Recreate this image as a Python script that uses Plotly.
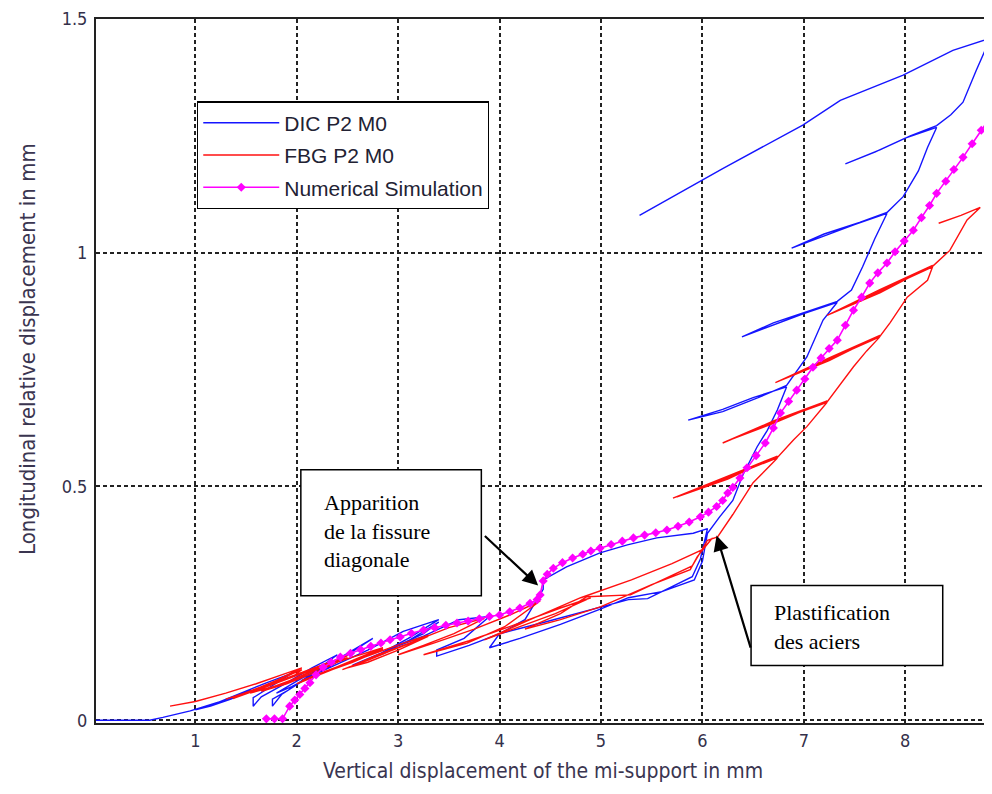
import plotly.graph_objects as go

# ---- data (x: vertical displacement, y: longitudinal displacement, mm)
dic_x = [0.00, 0.55, 0.68, 0.80, 0.95, 1.10, 1.25, 1.40, 1.55,
         1.35, 1.15, 1.00,
         1.20, 1.45, 1.70, 1.95,
         1.75, 1.57, 1.57,
         1.65, 1.90, 2.15, 2.40,
         2.15, 1.90, 1.76, 1.76,
         1.85, 2.10, 2.30, 2.45,
         2.20, 1.95, 1.80,
         2.05, 2.40, 2.75,
         2.50, 2.25, 2.05,
         2.35, 2.70, 3.05, 3.40,
         3.10, 2.80, 2.55,
         2.90, 3.25, 3.40,
         3.10, 2.85, 2.70,
         2.95, 3.25, 3.60, 3.90,
         3.65, 3.38, 3.38,
         3.70, 4.00, 4.25, 4.43, 4.43,
         4.66, 4.99, 5.26, 5.55, 5.91, 6.05,
         6.02, 5.98, 5.90, 5.46, 5.27, 4.90, 4.45, 4.00, 3.90,
         4.20, 4.60, 5.00, 5.27, 5.60, 5.92, 6.00, 6.05,
         6.17, 6.30, 6.40, 6.54, 6.64, 6.74, 6.83,
         6.50, 6.20, 5.86,
         6.20, 6.55, 6.83,
         7.03, 7.19, 7.33,
         7.00, 6.70, 6.39,
         6.70, 7.05, 7.33,
         7.47, 7.58, 7.70, 7.82,
         7.50, 7.20, 6.88,
         7.20, 7.55, 7.82,
         7.98, 8.13, 8.22, 8.31,
         8.00, 7.70, 7.41,
         7.75, 8.05, 8.31,
         8.45, 8.57, 8.70, 8.84,
         8.47, 7.98, 7.36, 6.99, 6.20, 5.38]
dic_y = [0.000, 0.000, 0.006, 0.012, 0.020, 0.030, 0.040, 0.052, 0.065,
         0.045, 0.030, 0.022,
         0.036, 0.058, 0.080, 0.100,
         0.072, 0.048, 0.030,
         0.050, 0.080, 0.112, 0.140,
         0.100, 0.062, 0.045, 0.030,
         0.055, 0.090, 0.118, 0.135,
         0.100, 0.072, 0.058,
         0.090, 0.130, 0.175,
         0.140, 0.105, 0.085,
         0.115, 0.150, 0.190, 0.215,
         0.175, 0.140, 0.118,
         0.150, 0.185, 0.210,
         0.170, 0.142, 0.130,
         0.155, 0.180, 0.215, 0.222,
         0.175, 0.150, 0.137,
         0.160, 0.185, 0.215, 0.280, 0.300,
         0.328, 0.358, 0.375, 0.390, 0.400, 0.410,
         0.380, 0.345, 0.307, 0.260, 0.258, 0.236, 0.210, 0.185, 0.155,
         0.175, 0.205, 0.238, 0.262, 0.275, 0.300, 0.340, 0.400,
         0.435, 0.470, 0.525, 0.585, 0.620, 0.664, 0.713,
         0.690, 0.665, 0.642,
         0.660, 0.690, 0.716,
         0.777, 0.856, 0.894,
         0.870, 0.845, 0.820,
         0.850, 0.875, 0.896,
         0.920, 0.970, 1.030, 1.084,
         1.060, 1.035, 1.010,
         1.040, 1.065, 1.086,
         1.120, 1.175, 1.225, 1.268,
         1.245, 1.215, 1.190,
         1.220, 1.250, 1.272,
         1.295, 1.322, 1.390, 1.459,
         1.433, 1.380, 1.326, 1.273, 1.180, 1.080]

fbg_x = [0.75, 1.00, 1.30, 1.60, 1.85, 2.05,
         1.80, 1.55, 1.37,
         1.65, 1.95, 2.05,
         1.75, 1.45, 1.30,
         1.60, 1.95, 2.25, 2.50,
         2.20, 1.90, 1.54,
         1.85, 2.20, 2.50,
         2.20, 1.90, 1.65,
         1.95, 2.20, 2.55, 2.85,
         2.55, 2.25, 2.00,
         2.35, 2.70, 2.85,
         2.55, 2.20, 2.05,
         2.35, 2.70, 3.05, 3.30,
         3.00, 2.70, 2.45,
         2.80, 3.15, 3.30,
         3.00, 2.70, 2.50,
         2.80, 3.15, 3.50, 3.85,
         3.55, 3.25, 3.00,
         3.35, 3.75, 4.10, 4.40,
         4.05, 3.68, 3.25,
         3.70, 4.20, 4.60, 4.90,
         4.55, 4.20, 3.85,
         4.30, 4.80, 5.30, 5.70, 6.00, 6.10,
         5.95, 5.88, 5.50, 5.00, 4.60, 4.25,
         4.60, 4.86, 5.29, 5.60, 5.90, 6.05,
         6.15, 6.30, 6.50, 6.74,
         6.25, 5.71, 6.25, 6.74, 6.25, 5.75, 6.25, 6.74,
         6.90, 7.03, 7.23,
         6.70, 6.20, 6.70, 7.23, 6.70, 6.24, 6.70, 7.23,
         7.49, 7.62, 7.75,
         7.25, 6.72, 7.25, 7.75, 7.25, 6.76, 7.25, 7.75,
         7.85, 8.02, 8.22, 8.27,
         7.75, 7.23, 7.75, 8.27, 7.75, 7.27, 7.75, 8.27,
         8.44, 8.61, 8.74,
         8.55, 8.33]
fbg_y = [0.030, 0.040, 0.058, 0.078, 0.097, 0.112,
         0.085, 0.062, 0.046,
         0.068, 0.092, 0.108,
         0.080, 0.055, 0.045,
         0.066, 0.094, 0.118, 0.138,
         0.108, 0.080, 0.058,
         0.084, 0.112, 0.134,
         0.104, 0.078, 0.062,
         0.086, 0.110, 0.135, 0.155,
         0.128, 0.100, 0.078,
         0.108, 0.138, 0.152,
         0.124, 0.096, 0.085,
         0.110, 0.138, 0.165, 0.182,
         0.155, 0.128, 0.108,
         0.138, 0.168, 0.180,
         0.150, 0.124, 0.112,
         0.140, 0.168, 0.198, 0.218,
         0.185, 0.160, 0.140,
         0.165, 0.195, 0.225, 0.255,
         0.200, 0.165, 0.140,
         0.170, 0.208, 0.240, 0.262,
         0.228, 0.200, 0.172,
         0.215, 0.262, 0.300, 0.335, 0.365, 0.390,
         0.350, 0.322, 0.290, 0.243, 0.215, 0.195,
         0.228, 0.264, 0.268, 0.300, 0.330, 0.385,
         0.392, 0.440, 0.508, 0.561,
         0.520, 0.475, 0.522, 0.565, 0.516, 0.478, 0.519, 0.562,
         0.600, 0.628, 0.680,
         0.638, 0.593, 0.640, 0.683, 0.635, 0.597, 0.637, 0.681,
         0.756, 0.790, 0.820,
         0.772, 0.722, 0.775, 0.823, 0.769, 0.726, 0.772, 0.821,
         0.850, 0.905, 0.941, 0.970,
         0.918, 0.866, 0.921, 0.973, 0.914, 0.870, 0.917, 0.971,
         1.005, 1.070, 1.097,
         1.080, 1.063]

num_x = [1.70, 1.78, 1.86, 1.93, 1.98, 2.03, 2.08, 2.13, 2.19, 2.26, 2.34, 2.43,
         2.53, 2.63, 2.73, 2.83, 2.92, 3.02, 3.13, 3.25, 3.36, 3.47, 3.58, 3.69,
         3.80, 3.90, 4.00, 4.10, 4.20, 4.30, 4.37, 4.40, 4.43, 4.47, 4.53, 4.62,
         4.72, 4.82, 4.90, 4.99, 5.10, 5.21, 5.32, 5.43, 5.54, 5.65, 5.76, 5.87,
         5.98, 6.06, 6.14, 6.20, 6.25, 6.30, 6.37, 6.44, 6.53, 6.62, 6.70, 6.77,
         6.85, 6.93, 7.01, 7.09, 7.17, 7.25, 7.33, 7.41, 7.49, 7.57, 7.65, 7.73,
         7.82, 7.90, 7.99, 8.08, 8.16, 8.24, 8.31, 8.40, 8.48, 8.57, 8.66, 8.75,
         8.84]
num_y = [0.003, 0.003, 0.003, 0.030, 0.043, 0.055, 0.068, 0.080, 0.097, 0.113, 0.124, 0.135,
         0.143, 0.151, 0.158, 0.165, 0.172, 0.178, 0.186, 0.193, 0.198, 0.203, 0.208, 0.212,
         0.217, 0.222, 0.225, 0.232, 0.240, 0.250, 0.258, 0.268, 0.298, 0.312, 0.325, 0.337,
         0.347, 0.355, 0.362, 0.368, 0.376, 0.383, 0.390, 0.396, 0.401, 0.407, 0.415, 0.424,
         0.435, 0.445, 0.457, 0.470, 0.486, 0.498, 0.518, 0.540, 0.566, 0.593, 0.625, 0.657,
         0.682, 0.706, 0.730, 0.755, 0.775, 0.795, 0.813, 0.845, 0.877, 0.905, 0.935, 0.957,
         0.978, 1.002, 1.025, 1.048, 1.075, 1.101, 1.127, 1.153, 1.178, 1.204, 1.233, 1.262,
         1.290]

x_ticks = [1, 2, 3, 4, 5, 6, 7, 8]
y_ticks = [0, 0.5, 1, 1.5]
y_tick_text = ["0", "0.5", "1", "1.5"]

narrow = "Liberation Sans Narrow, DejaVu Sans Condensed, Arial Narrow, sans-serif"
serif = "Liberation Serif, Times New Roman, serif"

fig = go.Figure()

fig.add_trace(go.Scatter(x=dic_x, y=dic_y, mode="lines", name="DIC P2 M0",
                         legendgroup="a", line=dict(color="#1515ff", width=1.4)))
fig.add_trace(go.Scatter(x=fbg_x, y=fbg_y, mode="lines", name="FBG P2 M0",
                         legendgroup="b", line=dict(color="#ff1010", width=1.4)))
fig.add_trace(go.Scatter(x=num_x, y=num_y, mode="lines+markers", name="Numerical Simulation",
                         legendgroup="c", line=dict(color="#ff00ff", width=1.6),
                         marker=dict(symbol="diamond", size=7, color="#ff00ff")))

# annotation boxes
fig.add_shape(type="rect", xref="x", yref="y", x0=2.04, x1=3.82, y0=0.266, y1=0.536,
              line=dict(color="black", width=1.5), fillcolor="white", layer="above")
fig.add_shape(type="rect", xref="x", yref="y", x0=6.48, x1=8.37, y0=0.117, y1=0.288,
              line=dict(color="black", width=1.5), fillcolor="white", layer="above")

fig.add_annotation(x=2.25, y=0.405, xref="x", yref="y", xanchor="left", yanchor="middle",
                   text="Apparition<br>de la fissure<br>diagonale", showarrow=False, align="left",
                   font=dict(family=serif, size=22, color="black"))
fig.add_annotation(x=6.69, y=0.200, xref="x", yref="y", xanchor="left", yanchor="middle",
                   text="Plastification<br>des aciers", showarrow=False, align="left",
                   font=dict(family=serif, size=22, color="black"))

# arrows
fig.add_annotation(x=4.38, y=0.288, ax=3.84, ay=0.397, xref="x", yref="y", axref="x", ayref="y",
                   text="", showarrow=True, arrowhead=2, arrowsize=1.4, arrowwidth=2.2,
                   arrowcolor="black")
fig.add_annotation(x=6.14, y=0.395, ax=6.48, ay=0.152, xref="x", yref="y", axref="x", ayref="y",
                   text="", showarrow=True, arrowhead=2, arrowsize=1.4, arrowwidth=2.2,
                   arrowcolor="black")

# axis titles
fig.add_annotation(x=0.503, y=-0.068, xref="paper", yref="paper", showarrow=False,
                   xanchor="center", yanchor="middle",
                   text="Vertical displacement of the mi-support in mm",
                   font=dict(family=narrow, size=21, color="#3a3550"))
fig.add_annotation(x=-0.078, y=0.531, xref="paper", yref="paper", showarrow=False,
                   xanchor="center", yanchor="middle",
                   textangle=-90, text="Longitudinal relative displacement in mm",
                   font=dict(family=narrow, size=22, color="#3a3550"))

grid = dict(showgrid=True, gridcolor="#222222", gridwidth=1.5, griddash="4px,3px",
            zeroline=False, showline=True, linecolor="#222222", linewidth=2,
            ticks="", tickfont=dict(family=narrow, size=18, color="#34304a"))

fig.update_xaxes(range=[0.02, 8.777], tickvals=x_ticks, mirror=True,
                 ticklabelstandoff=0, **grid)
fig.update_yaxes(range=[-0.006, 1.5], tickvals=y_ticks, ticktext=y_tick_text,
                 ticklabelstandoff=3, **grid)

# page body has an 8px margin, so the figure is made smaller to fit the window
fig.update_layout(
    width=976, height=778,
    margin=dict(l=88, r=0, t=11, b=63),
    paper_bgcolor="white", plot_bgcolor="white",
    showlegend=True,
    legend=dict(x=0.1138, y=0.883, xanchor="left", yanchor="top",
                bgcolor="white", bordercolor="black", borderwidth=1.2,
                font=dict(family="Liberation Sans, Arial, sans-serif", size=21, color="#222233"),
                tracegroupgap=2, itemwidth=76),
)

fig.write_html("out.html")
